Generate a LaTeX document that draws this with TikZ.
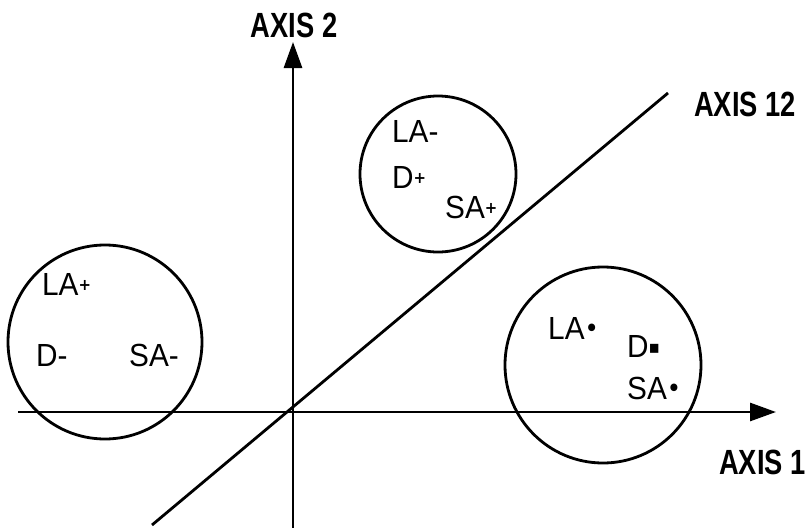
\documentclass[tikz,border=0pt]{standalone}
\usepackage{fontspec}
\usepackage{graphicx}
\setmainfont{Liberation Sans}
\newfontfamily\symfont{DejaVu Sans}
\usetikzlibrary{arrows.meta}
\tikzset{
  ln/.style={line width=2.8pt, black},
  axlabel/.style={font=\fontsize{35}{35}\selectfont\bfseries, inner sep=0pt},
  lbl/.style={font=\fontsize{32}{32}\selectfont, inner sep=0pt, anchor=west},
  grp/.style={ln, draw, circle, inner sep=0pt},
  tip/.style={-{Triangle[length=26pt,width=18pt]}}
}
\newcommand{\cond}[1]{\scalebox{0.78}[1]{#1}}
\newcommand{\condl}[1]{\scalebox{0.93}[1]{#1}}
\newcommand{\sm}[1]{\raisebox{5pt}{\symfont\bfseries\fontsize{16}{16}\selectfont #1}}
\newcommand{\dt}[1]{\raisebox{2pt}{\symfont\fontsize{26}{26}\selectfont #1}}
\newcommand{\sq}[1]{\raisebox{4pt}{\symfont\fontsize{18}{18}\selectfont #1}}
\begin{document}
\begin{tikzpicture}[x=1pt,y=-1pt]
\useasboundingbox (0,0) rectangle (807,528);
\coordinate (O) at (293,412);
\coordinate (vb) at (293,528);
\coordinate (vt) at (293,42);
\coordinate (hl) at (18,412);
\coordinate (hr) at (776,412);
\coordinate (dl) at (152,525);
\coordinate (dr) at (668,93);
% circles
\node[grp, minimum size=156pt] (c1) at (438,174) {};
\node[grp, minimum size=194pt] (c2) at (105,342) {};
\node[grp, minimum size=196pt] (c3) at (603,365) {};
% axes
\draw[ln, tip] (vb) -- (vt);
\draw[ln, tip] (hl) -- (hr);
\draw[ln] (dl) -- (dr);
% axis labels
\node[axlabel] (a2) at (294,25) {\cond{AXIS 2}};
\node[axlabel, anchor=west] (a12) at (694,104) {\cond{AXIS 12}};
\node[axlabel, anchor=west] (a1) at (719,462) {\cond{AXIS 1}};
% labels in circles
\node[lbl] (t1) at (392,131) {\condl{LA-}};
\node[lbl] (t2) at (392,177) {\condl{D\sm{+}}};
\node[lbl] (t3) at (445,207) {\condl{SA\sm{+}}};
\node[lbl] (l1) at (42,284) {\condl{LA\sm{+}}};
\node[lbl] (l2) at (36,355) {\condl{D-}};
\node[lbl] (l3) at (129,355) {\condl{SA-}};
\node[lbl] (r1) at (548,328) {\condl{LA\dt{•}}};
\node[lbl] (r2) at (627,346) {\condl{D\sq{▪}}};
\node[lbl] (r3) at (627,388) {\condl{SA\dt{•}}};
\end{tikzpicture}
\end{document}
